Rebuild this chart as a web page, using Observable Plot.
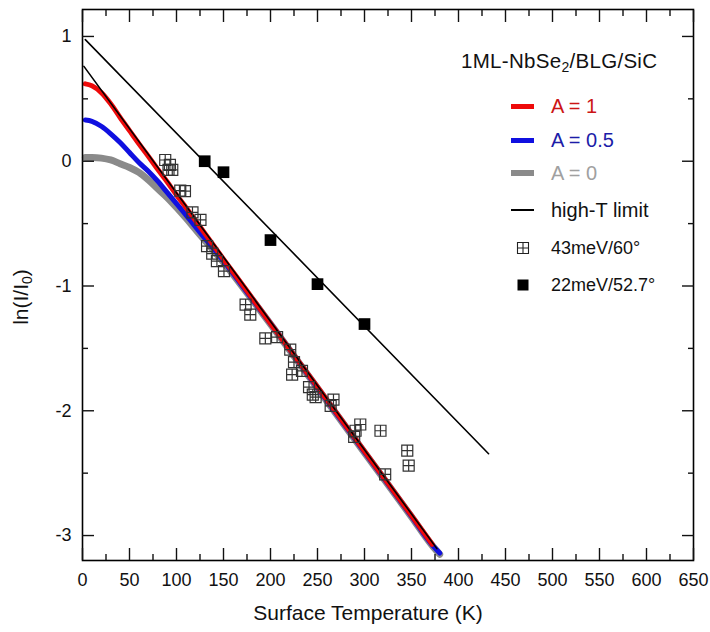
<!DOCTYPE html>
<html><head><meta charset="utf-8">
<script src="https://cdn.jsdelivr.net/npm/d3@7"></script>
<script src="https://cdn.jsdelivr.net/npm/@observablehq/plot@0.6"></script>
<style>
body{margin:0;background:#fff;font-family:"Liberation Sans",Arial,sans-serif;}
#wrap{position:relative;width:710px;height:632px;overflow:hidden;}
.ov{position:absolute;white-space:nowrap;line-height:1;}
.sw{position:absolute;}
</style></head><body><div id="wrap"></div>
<script>
// ---- data ----
const curveT = [3, 10, 20, 30, 40, 50, 60, 70, 80, 90, 100, 110, 125, 150, 175, 200, 250, 300, 350, 372, 380];
const redY   = [0.62, 0.605, 0.55, 0.46, 0.35, 0.245, 0.14, 0.04, -0.065, -0.165, -0.27, -0.37, -0.525, -0.785, -1.04, -1.30, -1.81, -2.325, -2.84, -3.07, null];
const blueY  = [0.33, 0.32, 0.28, 0.22, 0.15, 0.07, -0.01, -0.08, -0.16, -0.25, -0.34, -0.43, -0.57, -0.80, -1.05, -1.30, -1.815, -2.33, -2.845, -3.075, -3.14];
const grayY  = [0.03, 0.03, 0.025, 0.01, -0.02, -0.05, -0.09, -0.15, -0.22, -0.29, -0.37, -0.455, -0.59, -0.81, -1.055, -1.305, -1.82, -2.335, -2.85, -3.08, -3.15];

const limit1T = [3, 432];
const limit1Y = [0.975, -2.344];
const limit2T = [1.5, 377];
const limit2Y = [0.76, -3.105];

const open43T = [88, 93, 91.5, 95.5, 104, 109, 117, 125.5, 132.5, 138, 143, 150.5, 173.5, 178.5, 194.5, 207, 221, 225, 233.5, 223, 241, 245, 248, 267, 264, 295.5, 290.5, 289, 317, 345.5, 347, 322];
const open43Y = [0.01, -0.03, -0.07, -0.07, -0.235, -0.24, -0.41, -0.47, -0.68, -0.74, -0.80, -0.88, -1.15, -1.23, -1.42, -1.41, -1.51, -1.61, -1.68, -1.71, -1.81, -1.87, -1.89, -1.91, -1.96, -2.11, -2.16, -2.21, -2.16, -2.32, -2.44, -2.51];

const filled22T = [130, 150, 200, 250, 300];
const filled22Y = [0.0, -0.088, -0.632, -0.985, -1.305];

const xMajor = [0, 50, 100, 150, 200, 250, 300, 350, 400, 450, 500, 550, 600, 650];
const xMinor = [25, 75, 125, 175, 225, 275, 325, 375, 425, 475, 525, 575, 625];
const yMajor = [-3, -2, -1, 0, 1];
const yMinor = [-2.5, -1.5, -0.5, 0.5];

// ---- tables ----
const toRows = (T, Y) => T.map((t, i) => ({T: t, v: Y[i]})).filter(d => d.v != null);
const red = toRows(curveT, redY), blue = toRows(curveT, blueY), gray = toRows(curveT, grayY);
const lim1 = toRows(limit1T, limit1Y), lim2 = toRows(limit2T, limit2Y);
const open43 = toRows(open43T, open43Y), filled22 = toRows(filled22T, filled22Y);

const crossSquare = {
  draw(ctx, size) {
    const s = Math.sqrt(size / Math.PI);
    ctx.moveTo(-s, -s); ctx.lineTo(s, -s); ctx.lineTo(s, s); ctx.lineTo(-s, s); ctx.closePath();
    ctx.moveTo(0, -s); ctx.lineTo(0, s);
    ctx.moveTo(-s, 0); ctx.lineTo(s, 0);
  }
};
const noText = () => "";
const plain = d => String(d);

const chart = Plot.plot({
  width: 710, height: 632,
  marginLeft: 82, marginRight: 17, marginTop: 9, marginBottom: 72,
  x: {domain: [0, 650]},
  y: {domain: [-3.2, 1.216]},
  style: {fontFamily: "Liberation Sans, Arial, sans-serif", fontSize: "18px", color: "#111", background: "#fff"},
  marks: [
    Plot.line(gray, {x: "T", y: "v", stroke: "#8a8a8a", strokeWidth: 7, curve: "monotone-x"}),
    Plot.line(blue, {x: "T", y: "v", stroke: "#1010e0", strokeWidth: 5, curve: "monotone-x"}),
    Plot.line(red, {x: "T", y: "v", stroke: "#ee0a0a", strokeWidth: 5, curve: "monotone-x"}),
    Plot.line(lim1, {x: "T", y: "v", stroke: "#000", strokeWidth: 1.6}),
    Plot.line(lim2, {x: "T", y: "v", stroke: "#000", strokeWidth: 1.6}),
    Plot.dot(open43, {x: "T", y: "v", symbol: crossSquare, r: 5.5, stroke: "#333", strokeWidth: 1.2, fill: "none"}),
    Plot.dot(filled22, {x: "T", y: "v", symbol: "square", r: 6.6, fill: "#000", stroke: "none"}),
    Plot.frame({stroke: "#000", strokeWidth: 1.6}),
    Plot.axisX({anchor: "bottom", ticks: xMajor, tickSize: 0, tickPadding: 13, tickFormat: plain, label: null}),
    Plot.axisX({anchor: "bottom", ticks: xMajor, tickSize: -12, tickFormat: noText, label: null, strokeWidth: 1.4}),
    Plot.axisX({anchor: "bottom", ticks: xMinor, tickSize: -6, tickFormat: noText, label: null, strokeWidth: 1.4}),
    Plot.axisX({anchor: "top", ticks: xMajor, tickSize: -12, tickFormat: noText, label: null, strokeWidth: 1.4}),
    Plot.axisX({anchor: "top", ticks: xMinor, tickSize: -6, tickFormat: noText, label: null, strokeWidth: 1.4}),
    Plot.axisY({anchor: "left", ticks: yMajor, tickSize: 0, tickPadding: 11, tickFormat: plain, label: null}),
    Plot.axisY({anchor: "left", ticks: yMajor, tickSize: -12, tickFormat: noText, label: null, strokeWidth: 1.4}),
    Plot.axisY({anchor: "left", ticks: yMinor, tickSize: -6, tickFormat: noText, label: null, strokeWidth: 1.4}),
    Plot.axisY({anchor: "right", ticks: yMajor, tickSize: -12, tickFormat: noText, label: null, strokeWidth: 1.4}),
    Plot.axisY({anchor: "right", ticks: yMinor, tickSize: -6, tickFormat: noText, label: null, strokeWidth: 1.4})
  ]
});
const wrap = document.getElementById("wrap");
wrap.appendChild(chart);

// ---- axis titles and legend (HTML overlay) ----
function addText(html, left, cy, size, color, extra = "") {
  const d = document.createElement("div");
  d.className = "ov";
  d.innerHTML = html;
  d.style.cssText += `left:${left}px;top:${cy}px;font-size:${size}px;color:${color};transform:translateY(-50%);${extra}`;
  wrap.appendChild(d);
  return d;
}
addText("Surface Temperature (K)", 368, 612, 21, "#111", "transform:translate(-50%,-50%);");
addText("ln(I/I<sub style='font-size:14px;vertical-align:-4px'>0</sub>)", 22, 297, 21, "#111", "transform:translate(-50%,-50%) rotate(-90deg);");

addText("1ML-NbSe<sub style='font-size:14px;vertical-align:-4px'>2</sub>/BLG/SiC", 461, 62, 20.5, "#111", "letter-spacing:0.3px;");

const legendRows = [
  {label: "A = 1", color: "#cc1515", type: "bar", stroke: "#ee0a0a", w: 5, cy: 106, size: 20},
  {label: "A = 0.5", color: "#1c1ca8", type: "bar", stroke: "#1010e0", w: 5, cy: 140, size: 20},
  {label: "A = 0", color: "#a0a0a0", type: "bar", stroke: "#8a8a8a", w: 6, cy: 173, size: 20},
  {label: "high-T limit", color: "#111", type: "bar", stroke: "#000", w: 1.5, cy: 210, size: 20},
  {label: "43meV/60°", color: "#111", type: "open", cy: 248, size: 18},
  {label: "22meV/52.7°", color: "#111", type: "filled", cy: 285, size: 18}
];
for (const r of legendRows) {
  if (r.type === "bar") {
    const b = document.createElement("div");
    b.className = "sw";
    b.style.cssText = `left:511px;width:23px;top:${r.cy - r.w / 2}px;height:${r.w}px;background:${r.stroke};`;
    wrap.appendChild(b);
  } else {
    const ns = "http://www.w3.org/2000/svg";
    const s = document.createElementNS(ns, "svg");
    s.setAttribute("width", 14); s.setAttribute("height", 14);
    s.style.cssText = `position:absolute;left:516px;top:${r.cy - 7}px;`;
    if (r.type === "open") {
      s.innerHTML = `<path d="M1.5,1.5H12.5V12.5H1.5Z M7,1.5V12.5 M1.5,7H12.5" fill="none" stroke="#222" stroke-width="1.1"/>`;
    } else {
      s.innerHTML = `<rect x="1.5" y="1.5" width="11" height="11" fill="#000"/>`;
    }
    wrap.appendChild(s);
  }
  addText(r.label, 551, r.cy, r.size, r.color);
}
</script></body></html>
